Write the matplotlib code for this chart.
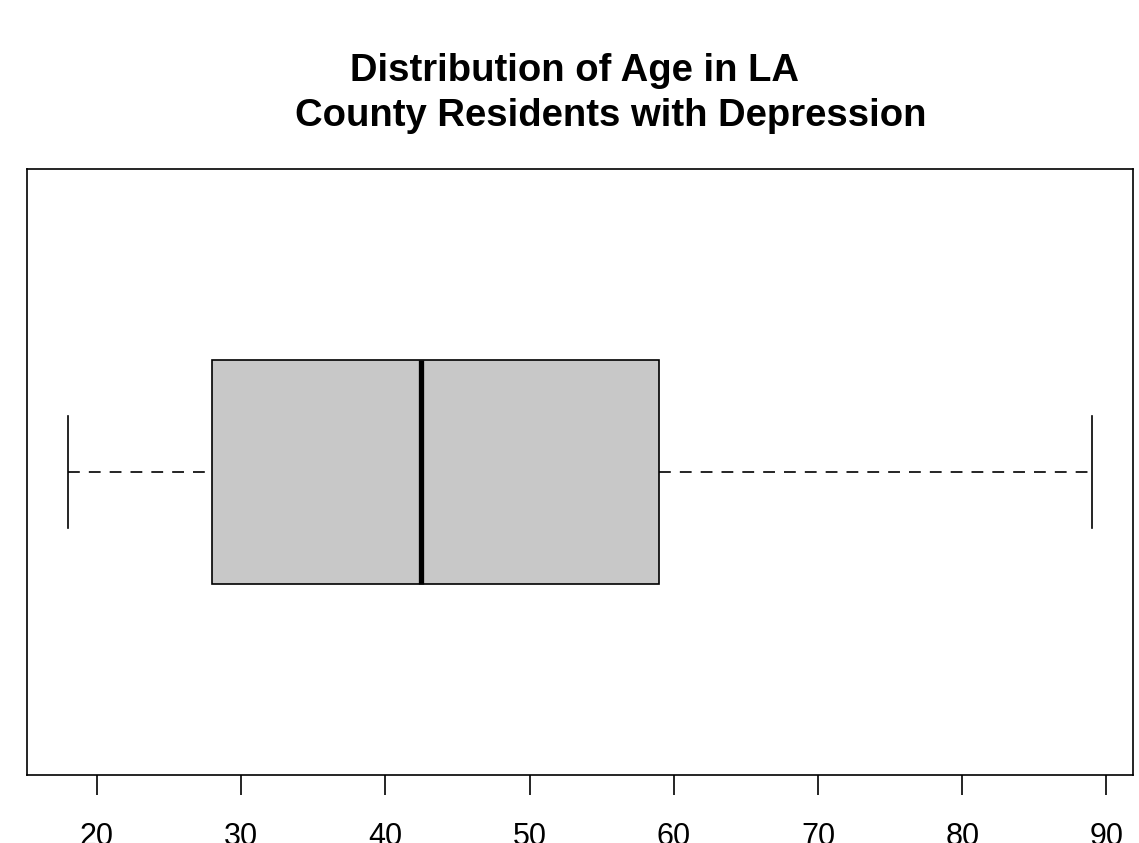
import matplotlib
matplotlib.use("Agg")
import matplotlib.pyplot as plt

# five-number summary of age
whisker_low = 18
q1 = 28
median = 42.5
q3 = 59
whisker_high = 89
x_ticks = [20, 30, 40, 50, 60, 70, 80, 90]

plt.rcParams['font.family'] = ['Liberation Sans', 'DejaVu Sans']
plt.rcParams['lines.scale_dashes'] = False

W, H = 1139, 843
fig = plt.figure(figsize=(W / 100, H / 100), dpi=100)
ax = fig.add_axes([27 / W, (H - 775) / H, (1133 - 27) / W, (775 - 169) / H])

stats = [{
    'whislo': whisker_low, 'q1': q1, 'med': median,
    'q3': q3, 'whishi': whisker_high, 'fliers': [],
}]

lw = 1.2
parts = ax.bxp(stats, positions=[1], widths=0.4, capwidths=0.2,
               orientation='horizontal', patch_artist=True, showfliers=False,
               boxprops=dict(facecolor='#c8c8c8', edgecolor='black', linewidth=lw),
               medianprops=dict(color='black', linewidth=3.8, solid_capstyle='butt'),
               whiskerprops=dict(color='black', linewidth=lw, linestyle=(0, (8.5, 6.5))),
               capprops=dict(color='black', linewidth=lw))

# start the lower whisker's dash pattern at the staple, like R does
low = parts['whiskers'][0]
low.set_xdata(low.get_xdata()[::-1])
low.set_ydata(low.get_ydata()[::-1])

span = whisker_high - whisker_low
ax.set_xlim(whisker_low - 0.04 * span, whisker_high + 0.04 * span)
ax.set_ylim(0.46, 1.54)

ax.set_yticks([])
ax.set_xticks(x_ticks)
ax.tick_params(axis='x', length=14.5, width=lw, pad=19, labelsize=22)
for s in ax.spines.values():
    s.set_linewidth(lw)

fig.text(575 / W, 1 - 81 / H, "Distribution of Age in LA", ha='center',
         va='baseline', fontsize=27.5, fontweight='bold')
fig.text(611 / W, 1 - 126 / H, "County Residents with Depression", ha='center',
         va='baseline', fontsize=27.5, fontweight='bold')

fig.savefig("out.png", dpi=100)
